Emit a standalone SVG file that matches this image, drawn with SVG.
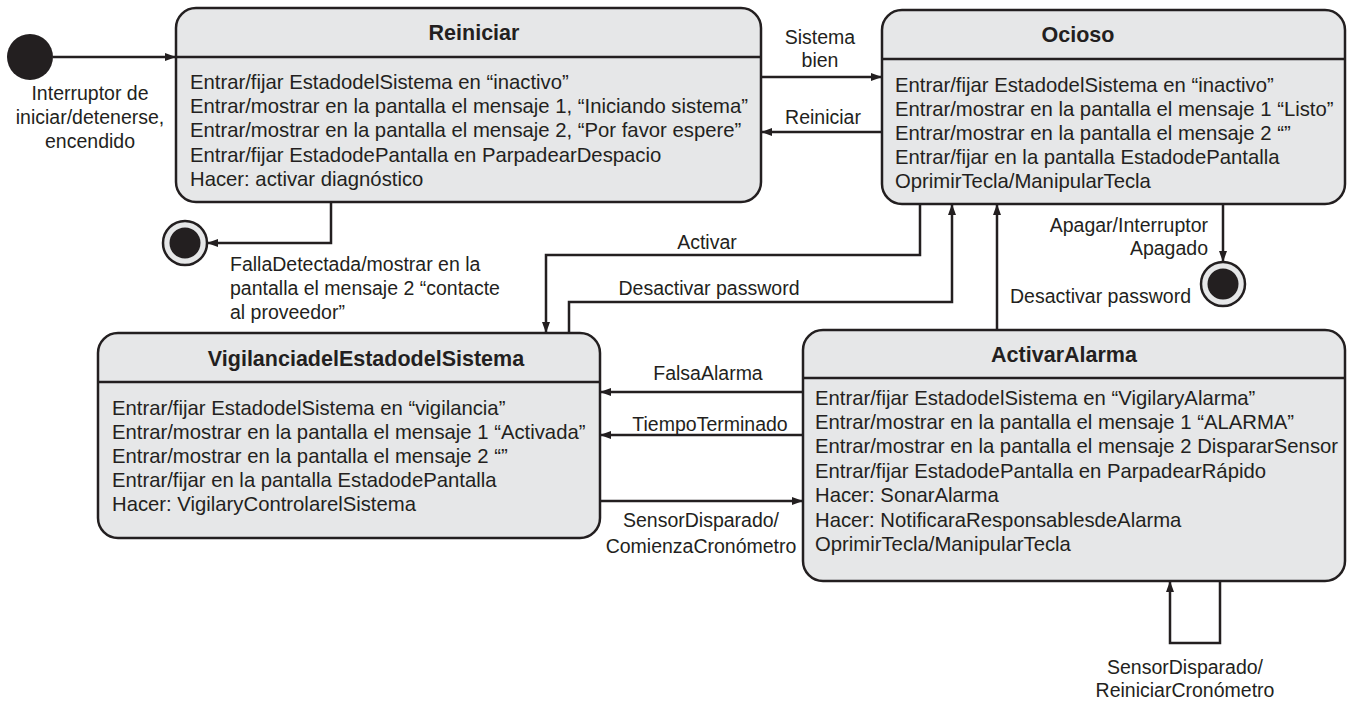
<svg xmlns="http://www.w3.org/2000/svg" width="1350" height="701" viewBox="0 0 1350 701">
<defs>
<marker id="arr" markerUnits="userSpaceOnUse" markerWidth="11" markerHeight="8" refX="11" refY="4" orient="auto">
<path d="M0,0 L11,4 L0,8 z" fill="#231f20"/>
</marker>
<style>
.box{fill:#e6e7e8;stroke:#231f20;stroke-width:2.5}
.div{stroke:#231f20;stroke-width:2.5}
.t{font-family:"Liberation Sans",Arial,sans-serif;font-size:20.3px;fill:#231f20}
.h{font-family:"Liberation Sans",Arial,sans-serif;font-size:21.5px;font-weight:bold;fill:#231f20;text-anchor:middle}
.l{font-family:"Liberation Sans",Arial,sans-serif;font-size:19.5px;fill:#231f20}
.m{text-anchor:middle}
.e{text-anchor:end}
.c{fill:none;stroke:#231f20;stroke-width:2.5}
</style>
</defs>
<rect width="1350" height="701" fill="#ffffff"/>

<g id="initial">
<circle cx="30" cy="57" r="23" fill="#231f20"/>
</g>

<g id="final1">
<circle cx="185" cy="243" r="22" fill="#e6e7e8" stroke="#231f20" stroke-width="2.5"/>
<circle cx="185" cy="243" r="15.5" fill="#231f20"/>
</g>

<g id="final2">
<circle cx="1223" cy="284" r="22" fill="#e6e7e8" stroke="#231f20" stroke-width="2.5"/>
<circle cx="1223" cy="284" r="15.5" fill="#231f20"/>
</g>

<g id="reiniciar">
<rect class="box" x="176" y="8" width="585" height="194" rx="20"/>
<line class="div" x1="176" y1="57" x2="761" y2="57"/>
<text class="h" x="474" y="40">Reiniciar</text>
<text class="t" x="190" y="89">Entrar/fijar EstadodelSistema en “inactivo”</text>
<text class="t" x="190" y="113">Entrar/mostrar en la pantalla el mensaje 1, “Iniciando sistema”</text>
<text class="t" x="190" y="137">Entrar/mostrar en la pantalla el mensaje 2, “Por favor espere”</text>
<text class="t" x="190" y="162">Entrar/fijar EstadodePantalla en ParpadearDespacio</text>
<text class="t" x="190" y="186">Hacer: activar diagnóstico</text>
</g>

<g id="ocioso">
<rect class="box" x="882" y="10" width="463" height="194" rx="20"/>
<line class="div" x1="882" y1="59" x2="1345" y2="59"/>
<text class="h" x="1078" y="42">Ocioso</text>
<text class="t" x="895" y="92">Entrar/fijar EstadodelSistema en “inactivo”</text>
<text class="t" x="895" y="116">Entrar/mostrar en la pantalla el mensaje 1 “Listo”</text>
<text class="t" x="895" y="140">Entrar/mostrar en la pantalla el mensaje 2 “”</text>
<text class="t" x="895" y="164">Entrar/fijar en la pantalla EstadodePantalla</text>
<text class="t" x="895" y="188">OprimirTecla/ManipularTecla</text>
</g>

<g id="vigilancia">
<rect class="box" x="98" y="333" width="502" height="205" rx="20"/>
<line class="div" x1="98" y1="382" x2="600" y2="382"/>
<text class="h" x="366" y="366">VigilanciadelEstadodelSistema</text>
<text class="t" x="112" y="415">Entrar/fijar EstadodelSistema en “vigilancia”</text>
<text class="t" x="112" y="439">Entrar/mostrar en la pantalla el mensaje 1 “Activada”</text>
<text class="t" x="112" y="463">Entrar/mostrar en la pantalla el mensaje 2 “”</text>
<text class="t" x="112" y="487">Entrar/fijar en la pantalla EstadodePantalla</text>
<text class="t" x="112" y="511">Hacer: VigilaryControlarelSistema</text>
</g>

<g id="activaralarma">
<rect class="box" x="803" y="330" width="542" height="251" rx="20"/>
<line class="div" x1="803" y1="378" x2="1345" y2="378"/>
<text class="h" x="1064" y="362">ActivarAlarma</text>
<text class="t" x="815" y="405">Entrar/fijar EstadodelSistema en “VigilaryAlarma”</text>
<text class="t" x="815" y="429">Entrar/mostrar en la pantalla el mensaje 1 “ALARMA”</text>
<text class="t" x="815" y="453">Entrar/mostrar en la pantalla el mensaje 2 DispararSensor</text>
<text class="t" x="815" y="478">Entrar/fijar EstadodePantalla en ParpadearRápido</text>
<text class="t" x="815" y="502">Hacer: SonarAlarma</text>
<text class="t" x="815" y="527">Hacer: NotificaraResponsablesdeAlarma</text>
<text class="t" x="815" y="551">OprimirTecla/ManipularTecla</text>
</g>

<g id="connectors">
<line class="c" x1="53" y1="57" x2="176" y2="57" marker-end="url(#arr)"/>
<text class="l m" x="90" y="100">Interruptor de</text>
<text class="l m" x="90" y="124">iniciar/detenerse,</text>
<text class="l m" x="90" y="148">encendido</text>

<line class="c" x1="761" y1="77" x2="882" y2="77" marker-end="url(#arr)"/>
<text class="l m" x="820" y="44">Sistema</text>
<text class="l m" x="820" y="67">bien</text>

<line class="c" x1="882" y1="132" x2="761" y2="132" marker-end="url(#arr)"/>
<text class="l m" x="823" y="124">Reiniciar</text>

<polyline class="c" points="331,202 331,243 207,243" marker-end="url(#arr)"/>
<text class="l" x="230" y="271">FallaDetectada/mostrar en la</text>
<text class="l" x="230" y="295">pantalla el mensaje 2 “contacte</text>
<text class="l" x="230" y="319">al proveedor”</text>

<polyline class="c" points="920,204 920,255 546,255 546,333" marker-end="url(#arr)"/>
<text class="l m" x="707" y="249">Activar</text>

<polyline class="c" points="569,333 569,302 952,302 952,204" marker-end="url(#arr)"/>
<text class="l m" x="709" y="295">Desactivar password</text>

<line class="c" x1="997" y1="330" x2="997" y2="204" marker-end="url(#arr)"/>
<text class="l e" x="1191" y="303">Desactivar password</text>

<line class="c" x1="1223" y1="204" x2="1223" y2="262" marker-end="url(#arr)"/>
<text class="l e" x="1208" y="232">Apagar/Interruptor</text>
<text class="l e" x="1208" y="255">Apagado</text>

<line class="c" x1="803" y1="392" x2="600" y2="392" marker-end="url(#arr)"/>
<text class="l m" x="708" y="380">FalsaAlarma</text>

<line class="c" x1="803" y1="435" x2="600" y2="435" marker-end="url(#arr)"/>
<text class="l m" x="710" y="431">TiempoTerminado</text>

<line class="c" x1="600" y1="501" x2="803" y2="501" marker-end="url(#arr)"/>
<text class="l m" x="701" y="527">SensorDisparado/</text>
<text class="l m" x="701" y="553">ComienzaCronómetro</text>

<polyline class="c" points="1220,581 1220,643 1170,643 1170,581" marker-end="url(#arr)"/>
<text class="l m" x="1185" y="674">SensorDisparado/</text>
<text class="l m" x="1185" y="697">ReiniciarCronómetro</text>
</g>
</svg>
